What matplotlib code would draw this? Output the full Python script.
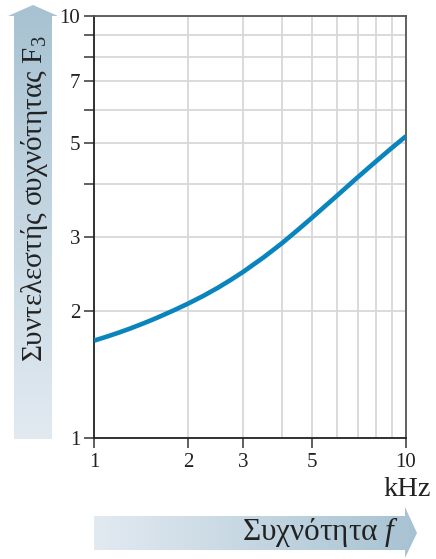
import numpy as np
import matplotlib
matplotlib.use("Agg")
import matplotlib.pyplot as plt
from matplotlib.patches import Polygon
from matplotlib.ticker import FixedLocator, NullLocator, NullFormatter

plt.rcParams['font.family'] = ['Liberation Serif', 'DejaVu Serif']
plt.rcParams['mathtext.fontset'] = 'custom'
plt.rcParams['mathtext.rm'] = 'Liberation Serif'
plt.rcParams['mathtext.it'] = 'Liberation Serif:italic'

# Frequency (kHz) and frequency factor F3
freq_khz = [1, 1.1, 1.2, 1.3, 1.4, 1.5, 1.6, 1.8, 2, 2.25, 2.5, 2.75, 3,
            3.5, 4, 4.5, 5, 6, 7, 8, 9, 10]
factor_f3 = [1.701, 1.739, 1.777, 1.815, 1.854, 1.892, 1.930, 2.006, 2.081,
             2.175, 2.272, 2.372, 2.473, 2.681, 2.893, 3.112, 3.328, 3.748,
             4.148, 4.519, 4.867, 5.190]

x_ticks = [1, 2, 3, 5, 10]
y_ticks = [1, 2, 3, 5, 7, 10]
y_minor = [4, 6, 8, 9]
grid_values = [1, 2, 3, 4, 5, 6, 7, 8, 9, 10]

x_label = "Συχνότητα $f$"
y_label = "Συντελεστής συχνότητας F$_3$"
unit_label = "kHz"

W, H = 436, 559
fig = plt.figure(figsize=(W / 100, H / 100), dpi=100)

# background layer in pixel coordinates for the gradient arrows
bg = fig.add_axes([0, 0, 1, 1])
bg.set_xlim(0, W)
bg.set_ylim(H, 0)
bg.axis('off')

light = np.array([0xe2, 0xea, 0xf1]) / 255
dark = np.array([0xa7, 0xc2, 0xd2]) / 255

n = 256
t = np.linspace(0, 1, n)[:, None]
ramp = light[None, :] * (1 - t) + dark[None, :] * t

# vertical arrow (light at the bottom, darker towards the head)
vgrad = ramp[::-1][:, None, :]
vpoly = Polygon([(14, 439), (14, 16), (8, 16), (33, 5), (58, 16), (52, 16), (52, 439)],
                closed=True, facecolor='none', edgecolor='none')
bg.add_patch(vpoly)
im = bg.imshow(vgrad, extent=(8, 58, 439, 5), aspect='auto', zorder=1)
im.set_clip_path(vpoly)

# horizontal arrow (light on the left, darker towards the head)
hgrad = ramp[None, :, :]
hpoly = Polygon([(94, 516), (405, 516), (405, 507), (417, 533), (405, 558), (405, 550), (94, 550)],
                closed=True, facecolor='none', edgecolor='none')
bg.add_patch(hpoly)
im2 = bg.imshow(hgrad, extent=(94, 417, 558, 507), aspect='auto', zorder=1)
im2.set_clip_path(hpoly)

bg.text(34, 199, y_label, rotation=90, ha='center', va='center',
        fontsize=21, color='#222222')
bg.text(399, 532, x_label, ha='right', va='center', fontsize=22.5, color='#222222')
bg.text(431, 489, unit_label, ha='right', va='center', fontsize=20.5, color='#222222')

# main plot
ax = fig.add_axes([94 / W, 1 - 438 / H, 312 / W, 422 / H])
ax.set_xscale('log')
ax.set_yscale('log')
ax.set_xlim(1, 10)
ax.set_ylim(1, 10)

for v in grid_values:
    ax.axvline(v, color='#d8d8d8', lw=1.3, zorder=1)
    ax.axhline(v, color='#d8d8d8', lw=1.3, zorder=1)

ax.plot(freq_khz, factor_f3, color='#0a84bc', lw=3.3, solid_joinstyle='round',
        solid_capstyle='butt', zorder=3)

ax.xaxis.set_major_locator(FixedLocator(x_ticks))
ax.xaxis.set_minor_locator(NullLocator())
ax.set_xticklabels([str(v) for v in x_ticks])
ax.yaxis.set_major_locator(FixedLocator(y_ticks))
ax.yaxis.set_minor_locator(FixedLocator(y_minor))
ax.yaxis.set_minor_formatter(NullFormatter())
ax.set_yticklabels([str(v) for v in y_ticks])

ax.tick_params(axis='both', which='both', direction='out', length=7, width=1.2,
               color='#444444', labelsize=15, labelcolor='#222222')
ax.tick_params(axis='y', pad=3)
ax.tick_params(axis='x', pad=4)

for side in ['left', 'bottom']:
    ax.spines[side].set_color('#222222')
    ax.spines[side].set_linewidth(1.3)
for side in ['top', 'right']:
    ax.spines[side].set_color('#555555')
    ax.spines[side].set_linewidth(1.3)
ax.set_facecolor('none')

fig.savefig('out.png', dpi=100)
